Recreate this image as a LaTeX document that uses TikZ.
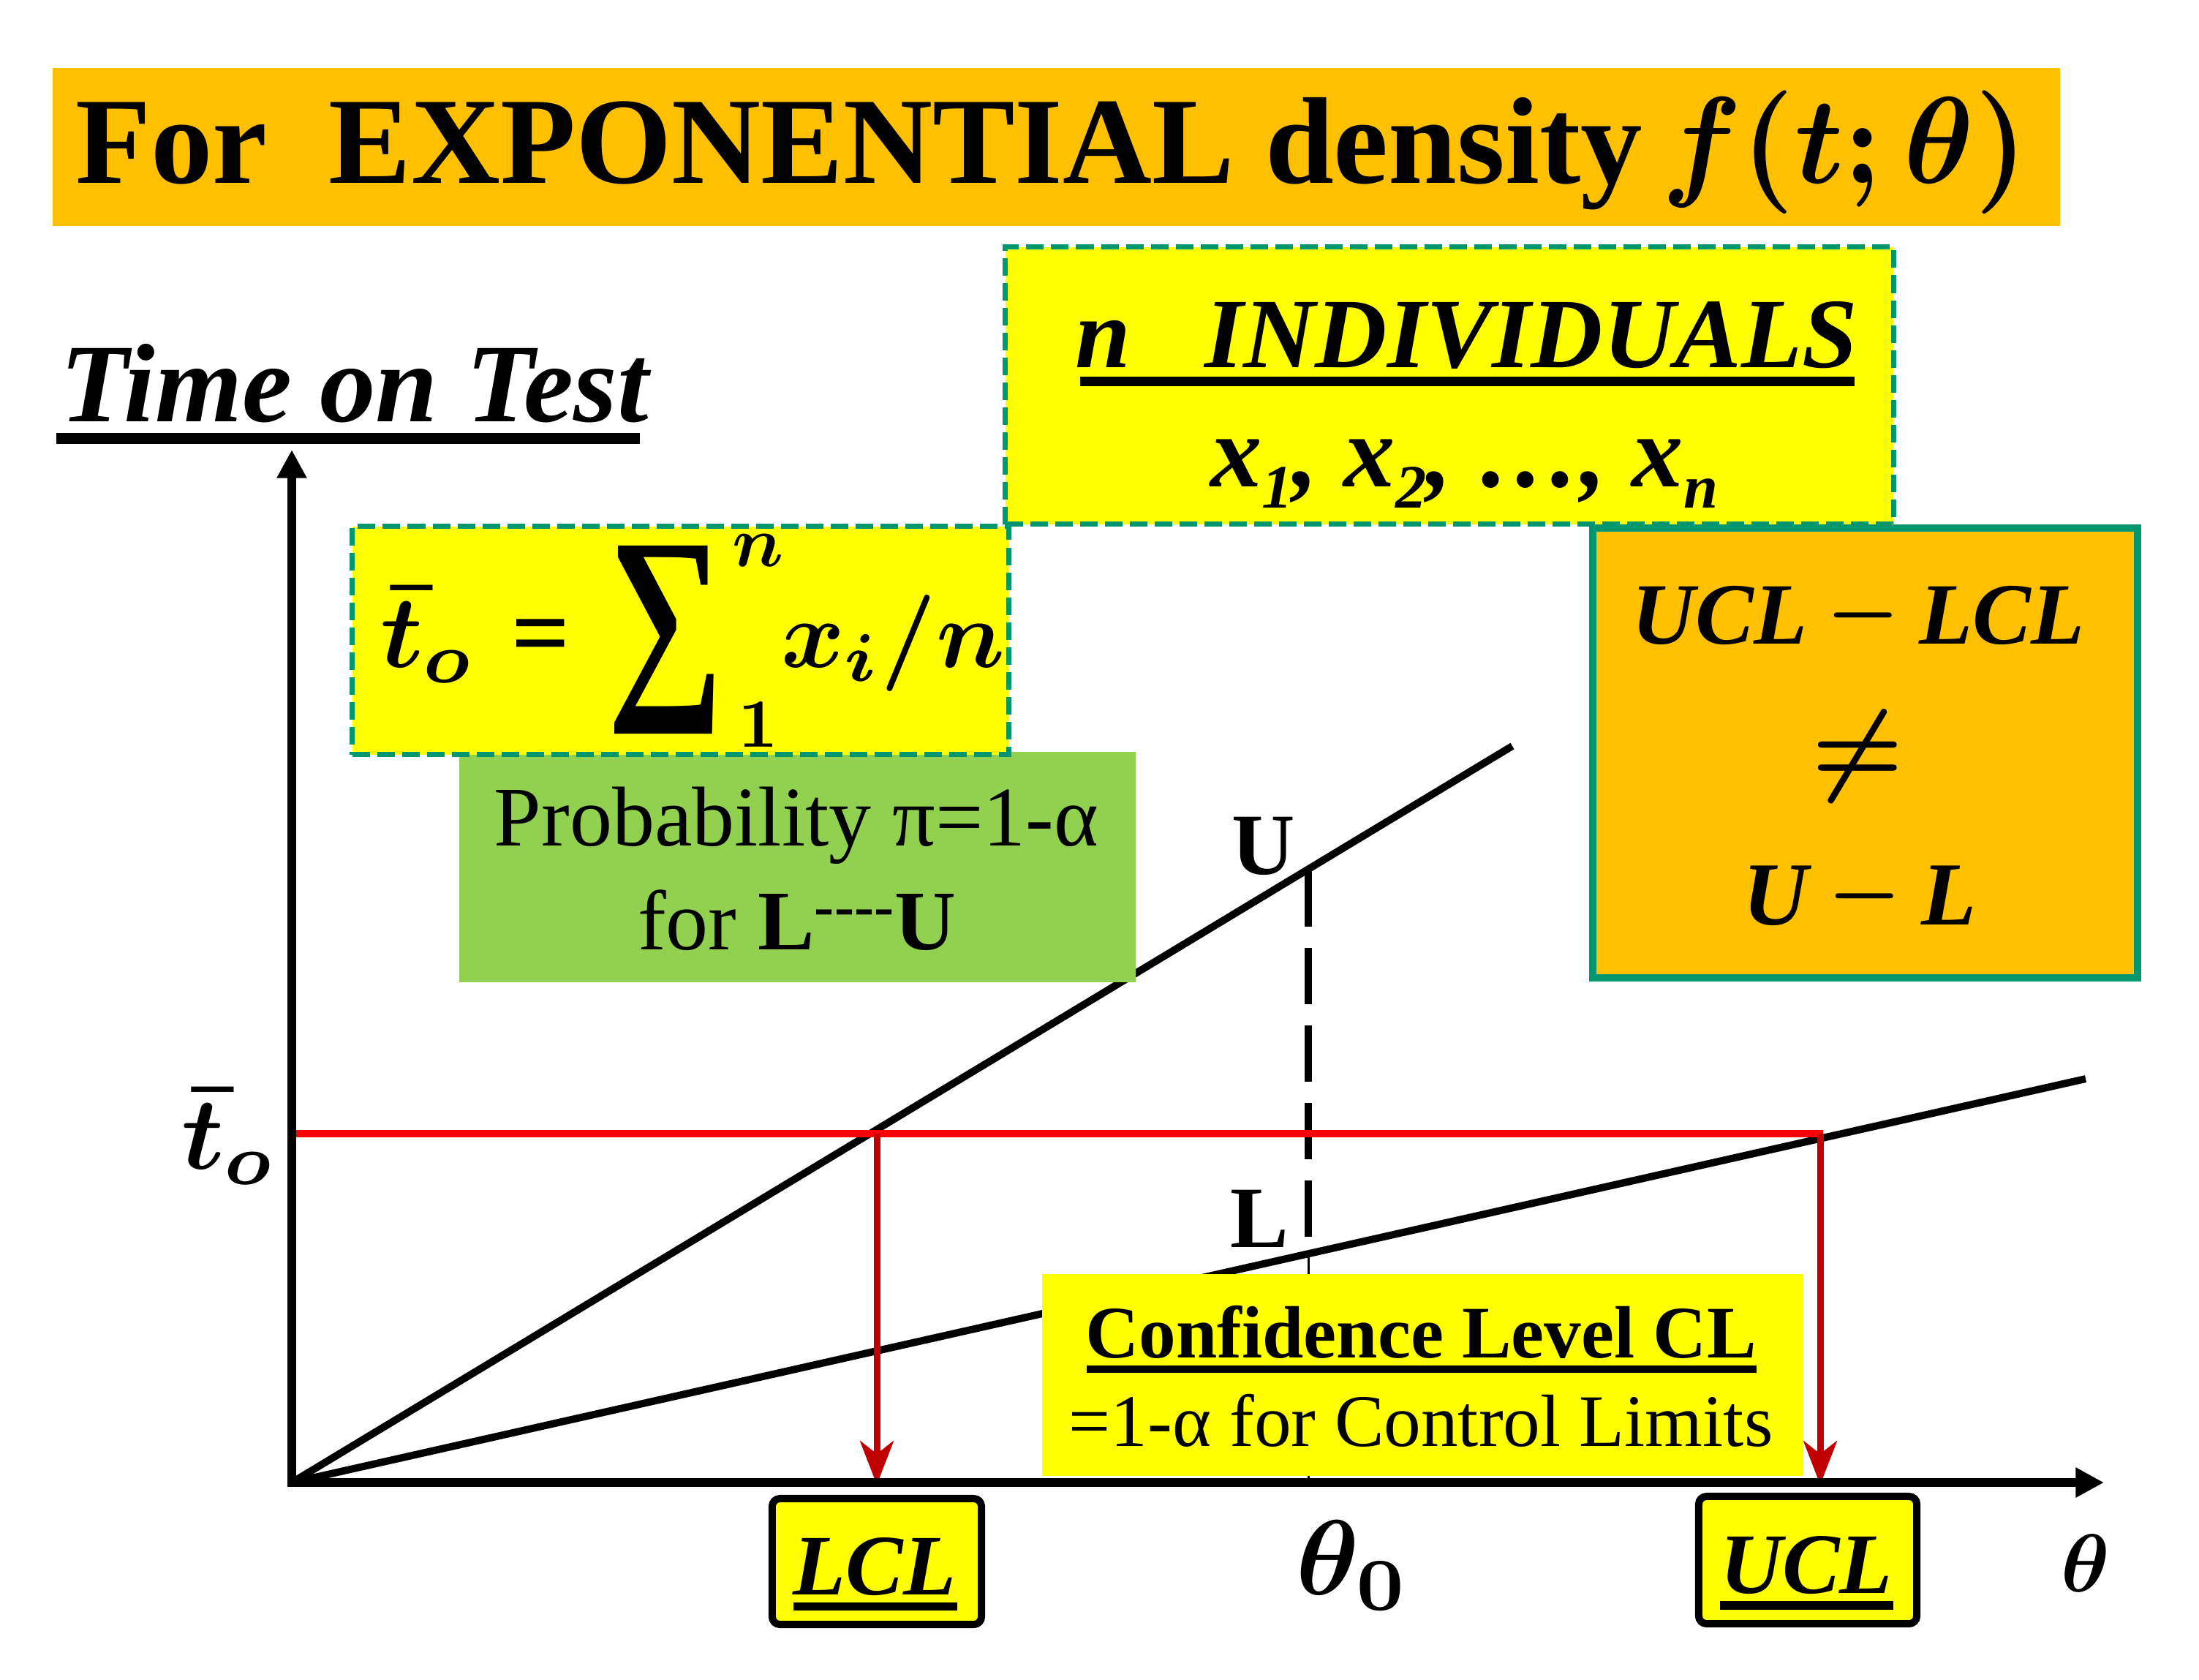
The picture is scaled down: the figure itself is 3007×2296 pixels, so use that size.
\documentclass[tikz,border=0pt]{standalone}
\usepackage{amsmath}
\usepackage{graphicx}
\usepackage{fontspec}
\setmainfont{Liberation Serif}
\usetikzlibrary{arrows.meta}
\definecolor{ttlorange}{HTML}{FFC000}
\definecolor{yel}{HTML}{FFFF00}
\definecolor{grn}{HTML}{92D050}
\definecolor{tealb}{HTML}{00966E}
\definecolor{dred}{HTML}{C00000}
\newcommand{\fsz}[1]{\fontsize{#1}{#1}\selectfont}
\newcommand{\xsub}[1]{\raisebox{-8.5pt}{\fsz{24pt}#1}}
\newcommand{\mth}[2]{\scalebox{#1}{\fsz{10pt}\boldmath$#2$}}
\newcommand{\mthx}[3]{\scalebox{#1}[#2]{\fsz{10pt}\boldmath$#3$}}
\newcommand{\bigminus}{\hspace{0.22em}\raisebox{3pt}{\mth{3.2}{-}}\hspace{0.22em}}
\begin{document}
\begin{tikzpicture}[x=0.01cm,y=-0.01cm,
  txt/.style={inner sep=0,outer sep=0},
  dbox/.style={fill=yel,draw=tealb,line width=0.07cm,dash pattern=on 0.24cm off 0.1cm,inner sep=0,anchor=north west},
  plainbox/.style={inner sep=0,anchor=north west},
  limbox/.style={fill=yel,draw=black,line width=0.1cm,rounded corners=3pt,inner sep=0},
  axis/.style={line width=0.12cm,-{Triangle[length=11pt,width=11pt]}},
  ray/.style={line width=0.1cm},
  redarrow/.style={dred,line width=0.09cm,-{Stealth[length=17pt,width=13pt,inset=5pt]}}]
\useasboundingbox (0,0) rectangle (3007,2296);

% coordinates
\coordinate (O) at (399,2027);
\coordinate (xstart) at (393,2027);
\coordinate (xtip) at (2877,2027);
\coordinate (ytip) at (399,615);
\coordinate (uend) at (2068,1020);
\coordinate (lend) at (2852,1475);
\coordinate (uPt) at (1789,1190);
\coordinate (lPt) at (1789,1716);
\coordinate (axPt) at (1789,2027);
\coordinate (redL) at (405,1550);
\coordinate (redR) at (2493,1550);
\coordinate (lclTop) at (1199,1550);
\coordinate (lclTip) at (1199,2030);
\coordinate (uclTop) at (2489,1550);
\coordinate (uclTip) at (2489,2030);

% title
\node[plainbox,fill=ttlorange,minimum width=27.44cm,minimum height=2.16cm] (titlebar) at (71,92) {};
\node[txt,anchor=base west,font=\bfseries\fsz{48pt}] (title) at (103,250) {For~~EXPONENTIAL density};
\node[txt,anchor=base west] (titlemath) at (2272,250) {\mthx{4.6}{4.8}{f(t;\theta)}};

% lines
\draw[ray] (O) -- (uend);
\draw[ray] (O) -- (lend);
\draw[line width=0.1cm,dash pattern=on 0.77cm off 0.29cm] (uPt) -- (lPt);
\draw[line width=0.03cm] (lPt) -- (axPt);
\draw[red,line width=0.1cm] (redL) -- (redR);
\draw[redarrow] (lclTop) -- (lclTip);
\draw[redarrow] (uclTop) -- (uclTip);

% boxes
\node[plainbox,fill=grn,minimum width=9.25cm,minimum height=3.15cm] (probbox) at (627,1027) {};
\node[dbox,minimum width=8.97cm,minimum height=3.12cm] (formbox) at (478,716) {};
\node[dbox,minimum width=12.14cm,minimum height=3.79cm] (indbox) at (1371,334) {};
\node[plainbox,fill=ttlorange,draw=tealb,line width=0.1cm,minimum width=7.45cm,minimum height=6.15cm] (diffbox) at (2173,717) {};
\node[plainbox,fill=yel,minimum width=10.41cm,minimum height=2.76cm] (confbox) at (1424,1741) {};
\node[limbox,minimum width=2.86cm,minimum height=1.72cm] (lclbox) at (1199,2135) {};
\node[limbox,minimum width=2.98cm,minimum height=1.74cm] (uclbox) at (2472,2133) {};

% axes
\draw[axis] (xstart) -- (xtip);
\draw[axis] (O) -- (ytip);

% Time on Test
\node[txt,anchor=base west,font=\bfseries\itshape\fsz{43.5pt}] (tot) at (82,576) {Time on Test};
\fill (77,592) rectangle (875,607);

% individuals
\node[txt,anchor=base west,font=\bfseries\itshape\fsz{38.7pt}] (indiv) at (1470,502) {n~~~INDIVIDUALS};
\fill (1477,515) rectangle (2536,528);
\node[txt,anchor=base west,font=\bfseries\itshape\fsz{40pt}] (xs) at (1655,665) {x\xsub{1}, x\xsub{2}, …, x\xsub{n}};

% formula
\node[txt,anchor=base west] (tbar) at (520,912) {\mth{4}{\bar{t}_o}};
\node[txt,anchor=base,font=\bfseries\fsz{40pt}] (eqs) at (740,912) {=};
\node[txt,font=\bfseries] (sigma) at (910,875) {\resizebox*{1.59cm}{2.57cm}{∑}};
\node[txt] (supn) at (1037,753) {\mth{2.8}{n}};
\node[txt] (sub1) at (1037,991) {\mth{2.7}{1}};
\node[txt,anchor=base west] (xin) at (1068,912) {\mth{3.75}{x_i/n}};

% probability
\node[txt,anchor=base,font=\fsz{33pt}] (prob1) at (1089,1156) {Probability π=1-α};
\node[txt,anchor=base,font=\fsz{33pt}] (prob2) at (1090,1298) {for \textbf{L}\textsuperscript{\textbf{-{}-{}-{}-}}\textbf{U}};

% difference
\node[txt,anchor=base,font=\bfseries\itshape\fsz{34pt}] (ucllcl) at (2541,880) {UCL\bigminus LCL};
\node[txt] (neq) at (2540,1034) {\mth{4}{\neq}};
\node[txt,anchor=base,font=\bfseries\itshape\fsz{35pt}] (uml) at (2543,1264) {U\bigminus L};

% U and L labels
\node[txt,anchor=base,font=\bfseries\fsz{34pt}] (Ulab) at (1728,1195) {U};
\node[txt,anchor=base,font=\bfseries\fsz{34pt}] (Llab) at (1722,1705) {L};

% t0 label
\node[txt,anchor=base west] (t0lab) at (248,1598) {\mth{4}{\bar{t}_o}};

% confidence
\node[txt,anchor=base,font=\bfseries\fsz{28.8pt}] (conf1) at (1943,1856) {Confidence Level CL};
\fill (1486,1867) rectangle (2402,1877);
\node[txt,anchor=base,font=\fsz{28.8pt}] (conf2) at (1943,1977) {=1-α for Control Limits};

% LCL UCL labels
\node[txt,anchor=base,font=\bfseries\itshape\fsz{33.5pt}] (lcltxt) at (1196,2180) {LCL};
\fill (1085,2191) rectangle (1309,2202);
\node[txt,anchor=base,font=\bfseries\itshape\fsz{33.5pt}] (ucltxt) at (2470,2178) {UCL};
\fill (2352,2189) rectangle (2589,2201);

% theta labels
\node[txt,anchor=base west] (th0) at (1772,2180) {\mth{4.15}{\theta_0}};
\node[txt,anchor=base west] (th) at (2818,2176) {\mth{3.2}{\theta}};
\end{tikzpicture}
\end{document}
